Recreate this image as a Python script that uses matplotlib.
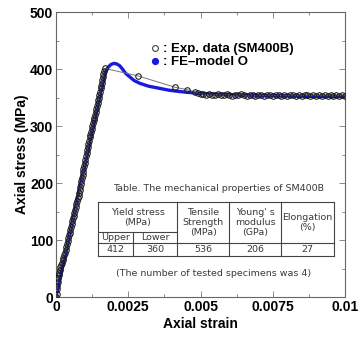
"""Axial stress-strain curve of SM400B: test data vs FE model O."""
import matplotlib
matplotlib.use("Agg")
import matplotlib.pyplot as plt
from matplotlib.lines import Line2D

exp_strain = [0.0, 0.00002, 0.00003, 0.00005, 0.00006, 0.00007, 0.00009, 0.00011,
              0.00013, 0.00015, 0.00018, 0.00020, 0.00023, 0.00025, 0.00028, 0.00031,
              0.00033, 0.00036, 0.00038, 0.00041, 0.00043, 0.00046, 0.00047, 0.00050,
              0.00052, 0.00055, 0.00057, 0.00060, 0.00061, 0.00064, 0.00066, 0.00069,
              0.00070, 0.00073, 0.00075, 0.00078, 0.00079, 0.00082, 0.00084, 0.00087,
              0.00088, 0.00090, 0.00092, 0.00094, 0.00095, 0.00098, 0.00099, 0.00102,
              0.00103, 0.00106, 0.00107, 0.00110, 0.00111, 0.00114, 0.00116, 0.00118,
              0.00121, 0.00123, 0.00125, 0.00128, 0.00130, 0.00133, 0.00134, 0.00137,
              0.00139, 0.00141, 0.00144, 0.00145, 0.00148, 0.00150, 0.00152, 0.00154,
              0.00156, 0.00158, 0.00160, 0.00162, 0.00164, 0.00166, 0.00170,
              0.00284, 0.00412, 0.00453,
              0.0048, 0.0049, 0.0050, 0.0051, 0.0052, 0.0053, 0.0054, 0.0055, 0.0056,
              0.0057, 0.0058, 0.0059, 0.0060, 0.0061, 0.0062, 0.0063, 0.0064, 0.0065,
              0.0066, 0.0067, 0.0068, 0.0069, 0.0070, 0.0071, 0.0072, 0.0073, 0.0074,
              0.0075, 0.0076, 0.0077, 0.0078, 0.0079, 0.0080, 0.0081, 0.0082, 0.0083,
              0.0084, 0.0085, 0.0086, 0.0087, 0.0088, 0.0089, 0.0090, 0.0091, 0.0092,
              0.0093, 0.0094, 0.0095, 0.0096, 0.0097, 0.0098, 0.0099, 0.0100]
exp_stress = [0, 6, 14, 20, 27, 33, 38, 43,
              47, 52, 56, 60, 65, 69, 74, 78,
              83, 88, 93, 98, 103, 108, 113, 118,
              123, 128, 133, 138, 143, 148, 153, 158,
              163, 168, 173, 178, 183, 188, 193, 198,
              203, 208, 214, 219, 225, 230, 236, 241,
              247, 252, 258, 263, 269, 274, 280, 285,
              290, 295, 300, 305, 310, 315, 320, 325,
              330, 335, 340, 345, 350, 355, 360, 366,
              371, 376, 381, 386, 391, 397, 401,
              388, 368, 364,
              360, 358, 357, 356, 355, 356, 354, 355, 356,
              354, 355, 356, 354, 353, 355, 354, 356, 354,
              353, 355, 354, 353, 355, 354, 353, 355, 354,
              353, 354, 355, 353, 354, 353, 355, 354, 353,
              354, 353, 355, 354, 353, 354, 353, 354, 353,
              354, 353, 354, 352, 354, 353, 354, 353]

# FE-model O
fe_strain = [0.0, 0.0005, 0.0010, 0.0015, 0.0017, 0.0018, 0.0019, 0.0020, 0.0021,
             0.0022, 0.0023, 0.0024, 0.00256, 0.0027, 0.0029, 0.0032, 0.0035,
             0.0039, 0.0042, 0.0046, 0.0050, 0.0055, 0.0060, 0.0070, 0.0080,
             0.0090, 0.0100]
fe_stress = [0, 117, 233, 350, 393, 403, 408, 410, 409,
             406, 400, 393, 386, 380, 375, 370, 367,
             363, 361, 359, 357, 356, 355, 354, 353,
             352, 352]

# table of mechanical properties
yield_cols = ["Upper", "Lower"]
prop_heads = ["Tensile\nStrength\n(MPa)", "Young' s\nmodulus\n(GPa)", "Elongation\n(%)"]
prop_values = ["412", "360", "536", "206", "27"]

bold = dict(family="Liberation Sans", weight="bold")
tcol = "#3a3a3a"

fig = plt.figure(figsize=(3.59, 3.45), dpi=100)
ax = fig.add_axes([0.156, 0.139, 0.805, 0.826])

ax.plot(fe_strain, fe_stress, color="#1a1adf", lw=2.4, zorder=2)
ax.plot(exp_strain, exp_stress, color="#777777", lw=0.7, marker="o", ms=4.0,
        mfc="none", mec="#1a1a1a", mew=0.75, zorder=3)

ax.set_xlim(0, 0.01)
ax.set_ylim(0, 500)
ax.set_xticks([0, 0.0025, 0.005, 0.0075, 0.01])
ax.set_xticklabels(["0", "0.0025", "0.005", "0.0075", "0.01"])
ax.set_xticks([0.00125, 0.00375, 0.00625, 0.00875], minor=True)
ax.set_yticks([0, 100, 200, 300, 400, 500])
ax.set_yticks([50, 150, 250, 350, 450], minor=True)
ax.tick_params(which="both", direction="in", top=True, right=True,
               color="#777777", width=0.6, labelsize=10, pad=2)
ax.tick_params(which="major", length=4)
ax.tick_params(which="minor", length=2.5)
for lab in ax.get_xticklabels() + ax.get_yticklabels():
    lab.set_fontfamily("Liberation Sans")
    lab.set_fontweight("bold")
for s in ax.spines.values():
    s.set_color("#666666")
    s.set_linewidth(0.8)

ax.set_xlabel("Axial strain", fontsize=10, labelpad=2, **bold)
ax.set_ylabel("Axial stress (MPa)", fontsize=10, labelpad=1, **bold)

handles = [Line2D([], [], ls="none", marker="o", ms=4.2, mfc="none", mec="#444444", mew=0.8),
           Line2D([], [], ls="none", marker="o", ms=4.2, color="#1a1adf")]
ax.legend(handles, [": Exp. data (SM400B)", ": FE\u2013model O"], loc="upper left",
          bbox_to_anchor=(0.31, 0.91), frameon=False, handlelength=0.6,
          handletextpad=0.3, labelspacing=0.05, borderaxespad=0,
          prop=dict(family="Liberation Sans", weight="bold", size=9.5))

# table drawn in axes coordinates
tr = ax.transAxes
xs = [0.1453, 0.266, 0.419, 0.599, 0.779, 0.962]
top, mid, vtop, bot = 0.333, 0.228, 0.189, 0.144
lk = dict(color="#444444", lw=0.8, transform=tr, clip_on=False)
for y in (top, vtop, bot):
    ax.plot([xs[0], xs[-1]], [y, y], **lk)
ax.plot([xs[0], xs[2]], [mid, mid], **lk)
for x in (xs[0], xs[2], xs[3], xs[4], xs[5]):
    ax.plot([x, x], [bot, top], **lk)
ax.plot([xs[1], xs[1]], [bot, mid], **lk)

tk = dict(transform=tr, ha="center", va="center", fontsize=6.8, color=tcol,
          linespacing=1.15)
ax.text(0.564, 0.382, "Table. The mechanical properties of SM400B", **tk)
ax.text(0.544, 0.081, "(The number of tested specimens was 4)", **tk)
ax.text((xs[0] + xs[2]) / 2, (top + mid) / 2, "Yield stress\n(MPa)", **tk)
for i, name in enumerate(yield_cols):
    ax.text((xs[i] + xs[i + 1]) / 2, (mid + vtop) / 2, name, **tk)
for i, head in enumerate(prop_heads):
    ax.text((xs[i + 2] + xs[i + 3]) / 2, (top + vtop) / 2, head, **tk)
for i, v in enumerate(prop_values):
    ax.text((xs[i] + xs[i + 1]) / 2, (vtop + bot) / 2, v, **tk)

fig.savefig("out.png", dpi=100)
